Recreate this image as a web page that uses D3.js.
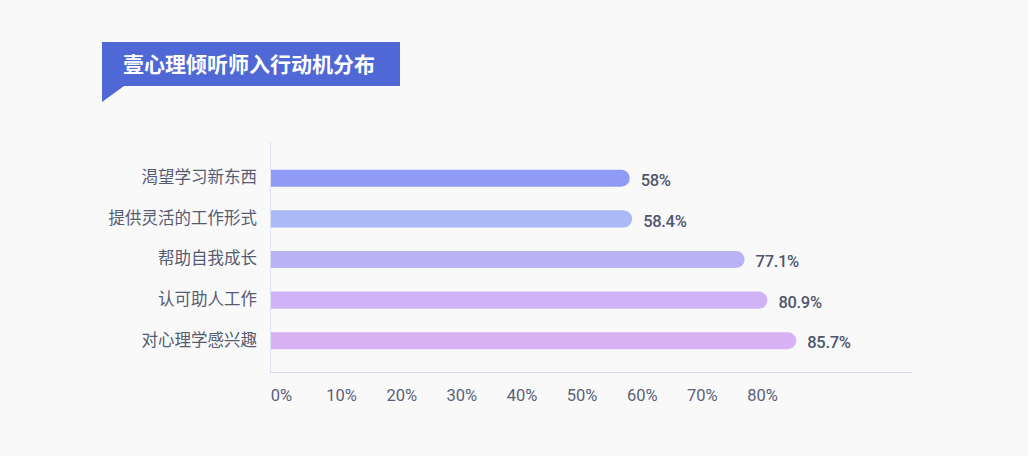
<!DOCTYPE html>
<html><head><meta charset="utf-8">
<script src="https://cdn.jsdelivr.net/npm/d3@7/dist/d3.min.js"></script>
<style>
html,body{margin:0;padding:0;background:#f9f9fa;}
svg{display:block;font-family:"Noto Sans CJK SC","Noto Sans",sans-serif;}
</style></head><body>
<svg id="c" width="1028" height="456"></svg>
<script>
const title = "壹心理倾听师入行动机分布";
const categories = ["渴望学习新东西","提供灵活的工作形式","帮助自我成长","认可助人工作","对心理学感兴趣"];
const values = [58, 58.4, 77.1, 80.9, 85.7];
const valueLabels = ["58%","58.4%","77.1%","80.9%","85.7%"];
const tickValues = [0,10,20,30,40,50,60,70,80];
const barColors = ["#8f9bf6","#abb9f6","#b9b3f6","#ceb3f7","#d9b2f5"];

const svg = d3.select("#c");
svg.append("rect").attr("width",1028).attr("height",456).attr("fill","#f9f9fa");

// title banner
const tg = svg.append("g");
tg.append("path").attr("d","M102,42 H400 V86 H124 L102,102 Z").attr("fill","#5068d6");
tg.append("text").attr("x",123).attr("y",64).attr("dy","0.36em")
  .attr("fill","#fff").attr("font-size",21).attr("font-weight",700).text(title);

const plotLeft = 270, plotRight = 912, plotTop = 142, plotBottom = 372;
const x = d3.scaleLinear().domain([0,80]).range([281,762]);
const y = d3.scaleBand().domain(categories).range([158,361]).paddingInner(0.58).paddingOuter(0.29);

// axis lines
svg.append("line").attr("x1",plotLeft+0.5).attr("x2",plotLeft+0.5).attr("y1",plotTop).attr("y2",plotBottom)
  .attr("stroke","#dde1f1").attr("stroke-width",1);
svg.append("line").attr("x1",plotLeft).attr("x2",plotRight).attr("y1",plotBottom+0.5).attr("y2",plotBottom+0.5)
  .attr("stroke","#d6dbf0").attr("stroke-width",1);

// x tick labels via axis
const xAxis = d3.axisBottom(x).tickValues(tickValues).tickFormat(d=>d+"%").tickSize(0).tickPadding(0);
const ax = svg.append("g").attr("transform",`translate(0,${plotBottom})`).call(xAxis);
ax.select(".domain").remove();
ax.selectAll("text").attr("y",24).attr("dy","0.32em").attr("font-size",16.5)
  .attr("fill","#5a6178").attr("font-family","Roboto,'Noto Sans',sans-serif");

// category labels
const yAxis = d3.axisLeft(y).tickSize(0).tickPadding(0);
const ay = svg.append("g").attr("transform",`translate(257,0)`).call(yAxis);
ay.select(".domain").remove();
ay.selectAll("text").attr("font-size",16.5).attr("fill","#555c72").attr("dy","0.3em")
  .attr("font-family","'Noto Sans CJK SC',sans-serif");

// bars with rounded right end
const bh = y.bandwidth();
const r = bh/2;
svg.append("g").selectAll("path").data(values).join("path")
  .attr("d",(d,i)=>{
    const y0 = y(categories[i]), x1 = x(d);
    return `M${plotLeft+1},${y0} H${x1-r} A${r},${r} 0 0 1 ${x1-r},${y0+bh} H${plotLeft+1} Z`;
  })
  .attr("fill",(d,i)=>barColors[i]);

// value labels
svg.append("g").selectAll("text").data(values).join("text")
  .attr("x",d=>x(d)+11).attr("y",(d,i)=>y(categories[i])+bh/2+2).attr("dy","0.34em")
  .attr("font-size",16.5).attr("font-weight",500).attr("fill","#4f566e")
  .attr("letter-spacing","-0.3")
  .attr("font-family","Roboto,'Noto Sans',sans-serif")
  .text((d,i)=>valueLabels[i]);
</script></body></html>
